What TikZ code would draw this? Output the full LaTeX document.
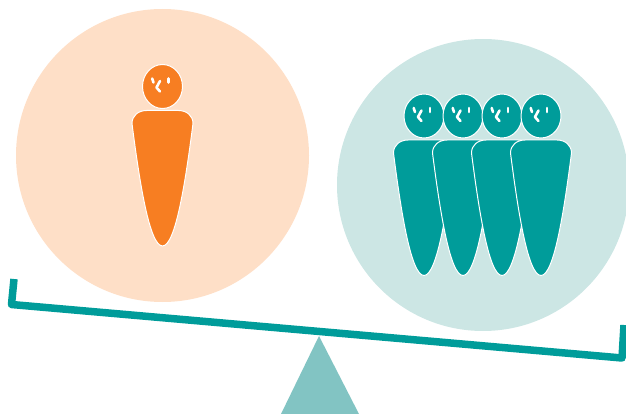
\documentclass[tikz,border=0pt]{standalone}
\definecolor{peach}{HTML}{FEDFC7}
\definecolor{paleteal}{HTML}{CCE6E4}
\definecolor{tealmain}{HTML}{009C9A}
\definecolor{tealsoft}{HTML}{82C4C3}
\definecolor{carrot}{HTML}{F77E22}
\tikzset{
  disc/.style={fill=#1, draw=none},
  beam/.style={draw=tealmain, line width=7.5pt, line join=round},
  outline/.style={draw=white, line width=1pt, fill=#1},
  face/.style={draw=white, line width=2.6pt, line cap=round, line join=round},
  person/.pic={
    \draw[outline=#1] (-30.5,1.5) .. controls (-30.5,-6.5) and (-24,-11.5) .. (-16,-11.5)
      -- (16,-11.5) .. controls (24,-11.5) and (30.5,-6.5) .. (30.5,1.5)
      .. controls (23,60) and (13,124) .. (0,124)
      .. controls (-13,124) and (-23,60) .. (-30.5,1.5) -- cycle;
    \draw[outline=#1] (0,-35.5) ellipse (20 and 22);
    \draw[face] (-10.3,-43.5) -- (-9,-39.5);
    \draw[face] (6,-43.5) -- (6,-39.5);
    \draw[face] (-2.5,-41) -- (-6,-34.5) -- (-2.5,-30.5);
  }
}
\begin{document}
\begin{tikzpicture}[x=1pt,y=-1pt]
  \useasboundingbox (0,0) rectangle (626,414);
  \clip (0,0) rectangle (626,414);
  % the two groups
  \fill[disc=peach] (162.5,155.5) circle (146.5);
  \fill[disc=paleteal] (483,185) circle (146);
  \pic at (162.5,122) {person=carrot};
  \foreach \px in {424,463,502,541}
    \pic at (\px,151.5) {person=tealmain};
  % the scale
  \fill[disc=tealsoft] (319,336) -- (359,414) -- (281,414) -- cycle;
  \draw[beam] (14,279) -- (11.5,304.5) -- (622,358) -- (624,325);
\end{tikzpicture}
\end{document}
